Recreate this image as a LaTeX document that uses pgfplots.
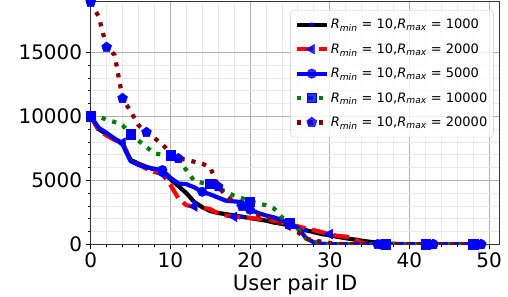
\documentclass[border=0pt]{standalone}
\usepackage{fontspec}
\setmainfont{DejaVu Sans}
\usepackage{pgfplots}
\pgfplotsset{compat=1.18}
\usetikzlibrary{plotmarks}
\definecolor{mdarkred}{HTML}{8B0000}
\definecolor{mgreen}{HTML}{008000}
\definecolor{mred}{HTML}{FF0000}
\definecolor{mblue}{HTML}{0000FF}
\newcommand{\lab}[1]{\textit{R}\textsubscript{\textit{min}} = 10,\textit{R}\textsubscript{\textit{max}} = #1}

\pgfplotstableread{
x y
0 10000
1 9000
2 8600
3 8250
4 7900
5 6600
6 6300
7 6050
8 5850
9 5600
10 5100
11 4550
12 4000
13 3300
14 2900
15 2600
16 2450
17 2350
18 2250
19 2150
20 2050
21 1950
22 1850
23 1700
24 1600
25 1450
26 1300
27 1100
28 950
29 800
30 700
31 580
32 480
33 380
34 280
35 200
36 130
37 80
38 40
39 20
40 10
41 0
42 0
43 0
44 0
45 0
46 0
47 0
48 0
49 0
}\sone

\pgfplotstableread{
x y
0 10000
1 8900
2 8500
3 8150
4 7950
5 6500
6 6250
7 5900
8 5650
9 5500
10 4650
11 3600
12 3050
13 2950
14 2850
15 2750
16 2400
17 2250
18 2150
19 2100
20 2050
21 2000
22 1950
23 1850
24 1700
25 1550
26 1400
27 1250
28 1100
29 950
30 800
31 650
32 600
33 500
34 100
35 0
36 0
37 0
38 0
39 0
40 0
41 0
42 0
43 0
44 0
45 0
46 0
47 0
48 0
49 0
}\stwo

\pgfplotstableread{
x y
0 10000
1 9100
2 8700
3 8250
4 7800
5 6500
6 6200
7 6000
8 5900
9 5800
10 5200
11 4750
12 4700
13 4450
14 4100
15 3900
16 3650
17 3400
18 3350
19 3300
20 2700
21 2450
22 2250
23 2100
24 1900
25 1550
26 1300
27 500
28 150
29 50
30 0
31 0
32 0
33 0
34 0
35 0
36 0
37 0
38 0
39 0
40 0
41 0
42 0
43 0
44 0
45 0
46 0
47 0
48 0
49 0
}\sthree

\pgfplotstableread{
x y
0 10000
1 9950
2 9750
3 9550
4 9300
5 8600
6 8100
7 7600
8 7100
9 7000
10 6950
11 6600
12 5800
13 4950
14 4800
15 4700
16 4400
17 4100
18 3800
19 3600
20 3350
21 3200
22 3050
23 2800
24 2100
25 1650
26 1200
27 450
28 200
29 100
30 0
31 0
32 0
33 0
34 0
35 0
36 0
37 0
38 0
39 0
40 0
41 0
42 0
43 0
44 0
45 0
46 0
47 0
48 0
49 0
}\sfour

\pgfplotstableread{
x y
0 18900
1 17800
2 15400
3 14800
4 11400
5 10400
6 9300
7 8750
8 8300
9 7800
10 7150
11 6700
12 6600
13 6450
14 6300
15 6000
16 4500
17 3800
18 3300
19 2950
20 2650
21 2300
22 2100
23 1850
24 1550
25 1250
26 950
27 450
28 300
29 200
30 100
31 40
32 0
33 0
34 0
35 0
36 0
37 0
38 0
39 0
40 0
41 0
42 0
43 0
44 0
45 0
46 0
47 0
48 0
49 0
}\sfive

\begin{document}
\begin{tikzpicture}
\useasboundingbox (-90.7bp,-52.7bp) rectangle (417.3bp,244.3bp);
\begin{axis}[
  at={(0,0)}, anchor=south west,
  scale only axis, width=408.8bp, height=242.8bp,
  xmin=0, xmax=51.3, ymin=0, ymax=18969,
  xtick={0,10,...,50}, ytick={0,5000,10000,15000},
  minor x tick num=4, minor y tick num=4,
  grid=both,
  major grid style={color=black!31, line width=0.8bp},
  minor grid style={color=black!9, line width=0.8bp},
  tick align=outside, tick pos=left,
  major tick length=5bp, minor tick length=3bp,
  tick style={black, line width=0.8bp},
  axis line style={black!80, line width=1bp},
  ticklabel style={font=\fontsize{20bp}{24bp}\selectfont},
  /pgf/number format/assume math mode=true,
  /pgf/number format/1000 sep={},
  scaled y ticks=false,
  xlabel={User pair ID},
  xlabel style={font=\fontsize{21bp}{24bp}\selectfont},
  legend cell align=left,
  legend style={at={(1,1)}, anchor=north east, xshift=-6bp, yshift=-8.5bp,
    draw=black!20, rounded corners=3bp, fill=white, fill opacity=0.8, text opacity=1,
    font=\fontsize{13bp}{15bp}\selectfont, row sep=9.3bp, inner xsep=4bp, inner ysep=7bp},
  every axis plot/.append style={
    legend image code/.code={\draw[mark indices={2}] plot coordinates {(0bp,0bp) (15bp,0bp) (30bp,0bp)};}},
]
\addplot[black, line width=4.2bp, line join=round, mark=*, mark size=2bp,
  mark options={solid, fill=mblue, draw=mblue, line width=0.5bp},
  mark indices={1,5,10,14,20,28,37,43,49}] table[x=x,y=y] {\sone};
\addlegendentry{\lab{1000}}
\addplot[mred, line width=4.2bp, line cap=butt, dash pattern=on 15.5bp off 6.7bp, mark=triangle*, mark size=5.5bp,
  mark options={solid, rotate=90, fill=mblue, draw=mblue, line width=0.5bp},
  mark indices={5,10,14,19,31,37,43,49}] table[x=x,y=y] {\stwo};
\addlegendentry{\lab{2000}}
\addplot[mblue, line width=4.2bp, line join=round, mark=*, mark size=4.7bp,
  mark options={solid, fill=mblue, draw=mblue, line width=0.5bp},
  mark indices={10,15,21,26,38,44,50}] table[x=x,y=y] {\sthree};
\addlegendentry{\lab{5000}}
\addplot[mgreen, line width=4.2bp, line cap=butt, dash pattern=on 4.2bp off 6.9bp, mark=square*, mark size=4.6bp,
  mark options={solid, fill=mblue, draw=mblue, line width=0.5bp},
  mark indices={1,6,11,16,21,26,38,43,49}] table[x=x,y=y] {\sfour};
\addlegendentry{\lab{10000}}
\addplot[mdarkred, line width=4.2bp, line cap=butt, dash pattern=on 4.2bp off 6.9bp, mark=pentagon*, mark size=5.2bp,
  mark options={solid, fill=mblue, draw=mblue, line width=0.5bp},
  mark indices={1,3,5,8,12,17,20,37,44,50}] table[x=x,y=y] {\sfive};
\addlegendentry{\lab{20000}}
\end{axis}
\end{tikzpicture}
\end{document}
